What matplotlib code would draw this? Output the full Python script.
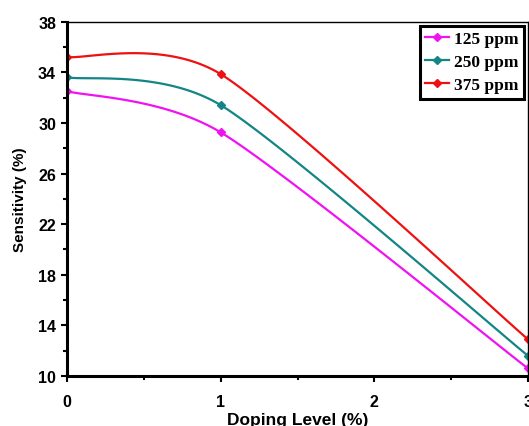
import numpy as np
import matplotlib
matplotlib.use("Agg")
import matplotlib.pyplot as plt
from matplotlib.ticker import MultipleLocator

doping = [0, 1, 3]
s125 = [32.5, 29.25, 10.6]
s250 = [33.6, 31.4, 11.6]
s375 = [35.2, 33.85, 12.9]

labels = ["125 ppm", "250 ppm", "375 ppm"]
colors = ["#f012f0", "#148585", "#ee1111"]


def smooth(xs, ys, k=8.0, n=60):
    """
    excel-like smoothed line through the points (bezier, catmull-rom tangents)
    """
    pts = np.column_stack([xs, ys]).astype(float)
    ext = np.vstack([pts[0], pts, pts[-1]])
    out = []
    for i in range(len(pts) - 1):
        p0, p1 = ext[i + 1], ext[i + 2]
        c1 = p0 + (ext[i + 2] - ext[i]) / k
        c2 = p1 - (ext[i + 3] - ext[i + 1]) / k
        t = np.linspace(0, 1, n)[:, None]
        seg = ((1 - t) ** 3) * p0 + 3 * ((1 - t) ** 2) * t * c1 + 3 * (1 - t) * t ** 2 * c2 + t ** 3 * p1
        out.append(seg)
    seg = np.vstack(out)
    return seg[:, 0], seg[:, 1]


def main():
    plt.rcParams['font.family'] = ['Liberation Sans', 'DejaVu Sans']
    fig = plt.figure(figsize=(5.29, 4.27), dpi=100)
    ax = fig.add_axes([0.127, 0.117, 0.871, 0.830])

    for ys, lab, c in zip([s125, s250, s375], labels, colors):
        sx, sy = smooth(doping, ys)
        ax.plot(sx, sy, color=c, lw=1.6)
        ax.plot(doping, ys, ls='none', marker='D', ms=4, color=c)
        # legend proxy
        ax.plot([], [], color=c, lw=1.6, marker='D', ms=4, label=lab)

    ax.set_xlim(0, 3)
    ax.set_ylim(10, 38)
    ax.set_xticks([0, 1, 2, 3])
    ax.set_yticks(range(10, 39, 4))
    ax.xaxis.set_minor_locator(MultipleLocator(0.5))
    ax.yaxis.set_minor_locator(MultipleLocator(2))
    ax.tick_params(which='major', direction='out', length=4, width=1.5, labelsize=11.5, pad=4)
    ax.tick_params(axis='x', which='major', pad=9)
    ax.tick_params(which='minor', direction='out', length=3, width=1.5)
    ax.tick_params(top=False, right=False)
    for t in ax.get_xticklabels() + ax.get_yticklabels():
        t.set_fontweight('bold')

    ax.spines['left'].set_linewidth(2.2)
    ax.spines['bottom'].set_linewidth(2.2)
    ax.spines['top'].set_linewidth(1.0)
    ax.spines['right'].set_linewidth(1.0)

    ax.set_ylabel("Sensitivity (%)", fontsize=11, fontweight='bold', labelpad=8)
    ax.set_xlabel("Doping Level (%)", fontsize=12.5, fontweight='bold', labelpad=2)

    leg = ax.legend(loc='upper right', bbox_to_anchor=(0.992, 0.988),
                    prop={'family': 'Liberation Serif', 'weight': 'bold', 'size': 12.5},
                    frameon=True, fancybox=False, handlelength=1.4, handletextpad=0.3,
                    borderpad=0.3, labelspacing=0.4, borderaxespad=0.0)
    leg.get_frame().set_edgecolor('black')
    leg.get_frame().set_linewidth(2.2)
    leg.get_frame().set_alpha(1)

    fig.savefig("out.png", dpi=100)


if __name__ == "__main__":
    main()
